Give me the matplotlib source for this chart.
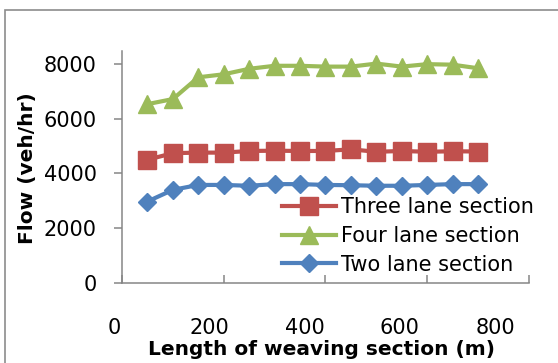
import matplotlib
matplotlib.use("Agg")
import matplotlib.pyplot as plt
from matplotlib.patches import Rectangle
from matplotlib.transforms import ScaledTranslation

# weaving section length (m)
length = [50, 100, 150, 200, 250, 300, 350, 400, 450, 500, 550, 600, 650, 700]

three_lane = [4500, 4740, 4760, 4760, 4820, 4830, 4820, 4820, 4880, 4790, 4820, 4790, 4810, 4800]
four_lane = [6530, 6715, 7510, 7620, 7820, 7930, 7930, 7900, 7900, 8010, 7900, 7990, 7970, 7840]
two_lane = [2975, 3400, 3580, 3580, 3550, 3610, 3610, 3580, 3570, 3550, 3550, 3580, 3610, 3610]

x_ticks = [0, 200, 400, 600, 800]
y_ticks = [0, 2000, 4000, 6000, 8000]

RED = "#C0504D"
GREEN = "#9BBB59"
BLUE = "#4F81BD"
AXIS = "#868686"

plt.rcParams['font.family'] = ['DejaVu Sans']

fig = plt.figure(figsize=(5.58, 3.63), dpi=100)
ax = fig.add_axes([0.2186, 0.2204, 0.7294, 0.6391])

# outer chart border (cut off at right / bottom in the original)
fig.patches.append(Rectangle((5 / 558, -0.1), 1.2, 1 - 10 / 363 + 0.1,
                             transform=fig.transFigure, fill=False,
                             edgecolor="#8C8C8C", linewidth=1.2))

l3, = ax.plot(length, three_lane, color=RED, lw=3, marker="s", ms=13,
              label="Three lane section")
l4, = ax.plot(length, four_lane, color=GREEN, lw=3, marker="^", ms=13,
              label="Four lane section")
l2, = ax.plot(length, two_lane, color=BLUE, lw=3, marker="D", ms=9,
              label="Two lane section")

ax.set_xlim(0, 800)
ax.set_ylim(0, 8470)
ax.set_xticks(x_ticks)
ax.set_yticks(y_ticks)

for s in ["top", "right"]:
    ax.spines[s].set_visible(False)
for s in ["left", "bottom"]:
    ax.spines[s].set_color(AXIS)
    ax.spines[s].set_linewidth(1.1)

ax.tick_params(axis="x", direction="in", length=6, width=1.1, color=AXIS,
               labelsize=15, pad=25)
ax.tick_params(axis="y", direction="out", length=6, width=1.1, color=AXIS,
               labelsize=15, pad=12)

# the x tick labels in the source drift left of their tick marks
for tick, v in zip(ax.xaxis.get_major_ticks(), x_ticks):
    dx = -(8 + 0.0325 * v) / 100
    tick.label1.set_transform(tick.label1.get_transform()
                              + ScaledTranslation(dx, 0, fig.dpi_scale_trans))

ax.set_xlabel("Length of weaving section (m)", fontsize=14.5, fontweight="bold")
ax.set_ylabel("Flow (veh/hr)", fontsize=14.5, fontweight="bold")
ax.xaxis.set_label_coords(0.491, -0.245)
ax.yaxis.set_label_coords(-0.21, 0.496)

ax.legend(handles=[l3, l4, l2], loc="upper left", bbox_to_anchor=(0.393, 0.37),
          frameon=False, fontsize=15, borderpad=0, borderaxespad=0,
          handlelength=2.6, handletextpad=0.25, labelspacing=0.42)

fig.savefig("out.png", dpi=100)
